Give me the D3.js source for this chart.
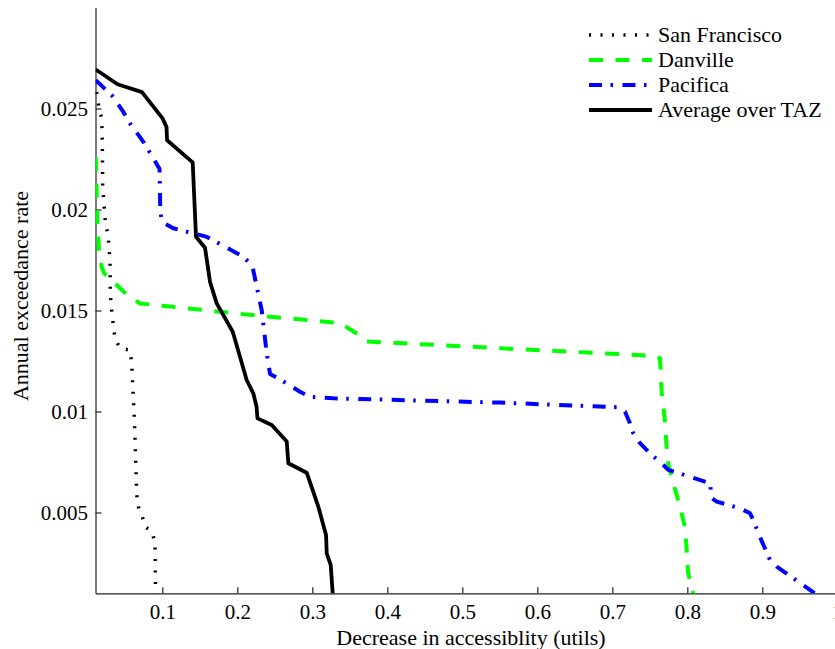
<!DOCTYPE html>
<html>
<head>
<meta charset="utf-8">
<script src="https://cdn.jsdelivr.net/npm/d3@7"></script>
<style>
  body { margin: 0; background: #fff; }
  svg { display: block; }
  text { font-family: "Liberation Serif", "Times New Roman", serif; fill: #000; }
</style>
</head>
<body>
<div id="chart"></div>
<script>
// exceedance curves
var xTicks = [0.1, 0.2, 0.3, 0.4, 0.5, 0.6, 0.7, 0.8, 0.9, 1];
var yTicks = [0.005, 0.01, 0.015, 0.02, 0.025];
var yTickLabels = ["0.005", "0.01", "0.015", "0.02", "0.025"];
var names = ["San Francisco", "Danville", "Pacifica", "Average over TAZ"];

var sfX = [0.0123, 0.0156, 0.0192, 0.0200, 0.0205, 0.0236, 0.0280, 0.0303, 0.0307, 0.0333, 0.0369, 0.0436, 0.0569,
           0.0592, 0.0605, 0.0627, 0.0645, 0.0659, 0.0680, 0.0733, 0.0769, 0.0863, 0.0903, 0.0909, 0.0910];
var sfY = [0.02581, 0.02503, 0.02451, 0.02335, 0.02112, 0.01956, 0.01857, 0.01740, 0.01576, 0.01469, 0.01362, 0.01313, 0.01304,
           0.01239, 0.01131, 0.00966, 0.00752, 0.00587, 0.00529, 0.00480, 0.00430, 0.00404, 0.00348, 0.00100, 0.0009];

var danX = [0.0113, 0.0123, 0.0133, 0.0156, 0.0192, 0.0223, 0.0525, 0.0703, 0.2259, 0.3369, 0.3480, 0.3613, 0.3725,
            0.5503, 0.7592, 0.7636, 0.7659, 0.7701, 0.7723, 0.7744, 0.7811, 0.7865, 0.7923, 0.7967, 0.7989, 0.8011, 0.8077, 0.809];
var danY = [0.02259, 0.02096, 0.01948, 0.01799, 0.01715, 0.01685, 0.01579, 0.01535, 0.01475, 0.01438, 0.01412, 0.01381, 0.01347,
            0.01313, 0.01275, 0.01263, 0.01090, 0.00958, 0.00826, 0.00744, 0.00645, 0.00578, 0.00496, 0.00430, 0.00331, 0.00200, 0.00100, 0.0008];

var pacX = [0.0112, 0.0325, 0.0480, 0.0569, 0.0747, 0.0880, 0.0963, 0.0973, 0.0996, 0.1147, 0.1413, 0.1583, 0.1836,
            0.2080, 0.2200, 0.2259, 0.2325, 0.2392, 0.2413, 0.2436, 0.2569, 0.2836, 0.2969, 0.3280, 0.5503, 0.7080,
            0.7169, 0.7236, 0.7280, 0.7369, 0.7503, 0.7680, 0.7747, 0.8036, 0.8303, 0.8325, 0.8392, 0.8703, 0.8836,
            0.8880, 0.8947, 0.9103, 0.9192, 0.9700, 0.972];
var pacY = [0.02640, 0.02566, 0.02483, 0.02426, 0.02335, 0.02253, 0.02200, 0.01989, 0.01938, 0.01907, 0.01882, 0.01866, 0.01816,
            0.01766, 0.01722, 0.01618, 0.01502, 0.01288, 0.01239, 0.01186, 0.01159, 0.01098, 0.01073, 0.01065, 0.01044, 0.01021,
            0.00999, 0.00942, 0.00892, 0.00843, 0.00793, 0.00735, 0.00711, 0.00677, 0.00645, 0.00571, 0.00554, 0.00521, 0.00496,
            0.00463, 0.00397, 0.00265, 0.00232, 0.00100, 0.0009];

var avgX = [0.0112, 0.0403, 0.0729, 0.1003, 0.1056, 0.1063, 0.1405, 0.1449, 0.1569, 0.1636, 0.1725, 0.1939, 0.2125,
            0.2213, 0.2256, 0.2269, 0.2459, 0.2659, 0.2680, 0.2925, 0.3080, 0.3183, 0.3192, 0.3245, 0.3272, 0.3275];
var avgY = [0.02693, 0.02620, 0.02581, 0.02451, 0.02408, 0.02343, 0.02233, 0.01865, 0.01811, 0.01642, 0.01535, 0.01395, 0.01156,
            0.01090, 0.01025, 0.00966, 0.00933, 0.00851, 0.00744, 0.00697, 0.00529, 0.00389, 0.00298, 0.00241, 0.00100, 0.0009];

var width = 835, height = 649;
var plotL = 95.5, plotT = 7.5, plotR = 837.3, plotB = 593.3;
var fs = 22, tickFs = 21;

var x = d3.scaleLinear().domain([0.0109, 1]).range([plotL, plotR]);
var y = d3.scaleLinear().domain([0.001, 0.03]).range([plotB, plotT]);

var svg = d3.select('#chart').append('svg')
    .attr('width', width)
    .attr('height', height);

svg.append('defs').append('clipPath').attr('id', 'plotclip')
    .append('rect')
    .attr('x', plotL).attr('y', plotT)
    .attr('width', plotR - plotL).attr('height', plotB - plotT);

// axes, MATLAB style ticks pointing in
var xAxis = svg.append('g')
    .attr('transform', 'translate(0,' + plotB + ')')
    .call(d3.axisBottom(x).tickValues(xTicks).tickSizeInner(-6).tickSizeOuter(0).tickPadding(11)
        .tickFormat(function(d) { return String(d); }));

var yAxis = svg.append('g')
    .attr('transform', 'translate(' + plotL + ',0)')
    .call(d3.axisLeft(y).tickValues(yTicks).tickSizeInner(-6).tickSizeOuter(0).tickPadding(7.5)
        .tickFormat(function(d, i) { return yTickLabels[i]; }));

[xAxis, yAxis].forEach(function(g) {
    g.attr('font-family', null).attr('font-size', null);
    g.select('.domain').attr('stroke', '#222').attr('stroke-width', 1.2);
    g.selectAll('.tick line').attr('stroke', '#222').attr('stroke-width', 1.2);
    g.selectAll('.tick text').style('font-size', tickFs + 'px');
});

svg.append('text')
    .attr('x', 471).attr('y', 645)
    .attr('text-anchor', 'middle')
    .style('font-size', fs + 'px')
    .text('Decrease in accessiblity (utils)');

svg.append('text')
    .attr('transform', 'translate(28,296) rotate(-90)')
    .attr('text-anchor', 'middle')
    .style('font-size', fs + 'px')
    .text('Annual exceedance rate');

var styles = [
    { xs: sfX, ys: sfY, color: '#000', w: 3.5, dash: '2,9.5' },
    { xs: danX, ys: danY, color: '#00ff00', w: 4, dash: '14,12.5' },
    { xs: pacX, ys: pacY, color: '#0000ff', w: 4, dash: '13,8.5,2.5,9.5' },
    { xs: avgX, ys: avgY, color: '#000', w: 3.8, dash: null }
];

var line = d3.line()
    .x(function(d) { return x(d[0]); })
    .y(function(d) { return y(d[1]); });

var lines = svg.append('g').attr('clip-path', 'url(#plotclip)');

styles.forEach(function(s) {
    var pts = d3.zip(s.xs, s.ys);
    lines.append('path')
        .datum(pts)
        .attr('d', line)
        .attr('fill', 'none')
        .attr('stroke', s.color)
        .attr('stroke-width', s.w)
        .attr('stroke-linejoin', 'round')
        .attr('stroke-dasharray', s.dash);
});

// legend
var legend = svg.append('g').attr('class', 'legend');
var rowY = d3.scalePoint().domain(names).range([35, 110]);

names.forEach(function(n, i) {
    var s = styles[i];
    legend.append('line')
        .attr('x1', 589).attr('x2', 652)
        .attr('y1', rowY(n)).attr('y2', rowY(n))
        .attr('stroke', s.color)
        .attr('stroke-width', s.w)
        .attr('stroke-dasharray', s.dash);
    legend.append('text')
        .attr('x', 658).attr('y', rowY(n))
        .attr('dy', '0.33em')
        .style('font-size', fs + 'px')
        .text(n);
});
</script>
</body>
</html>
